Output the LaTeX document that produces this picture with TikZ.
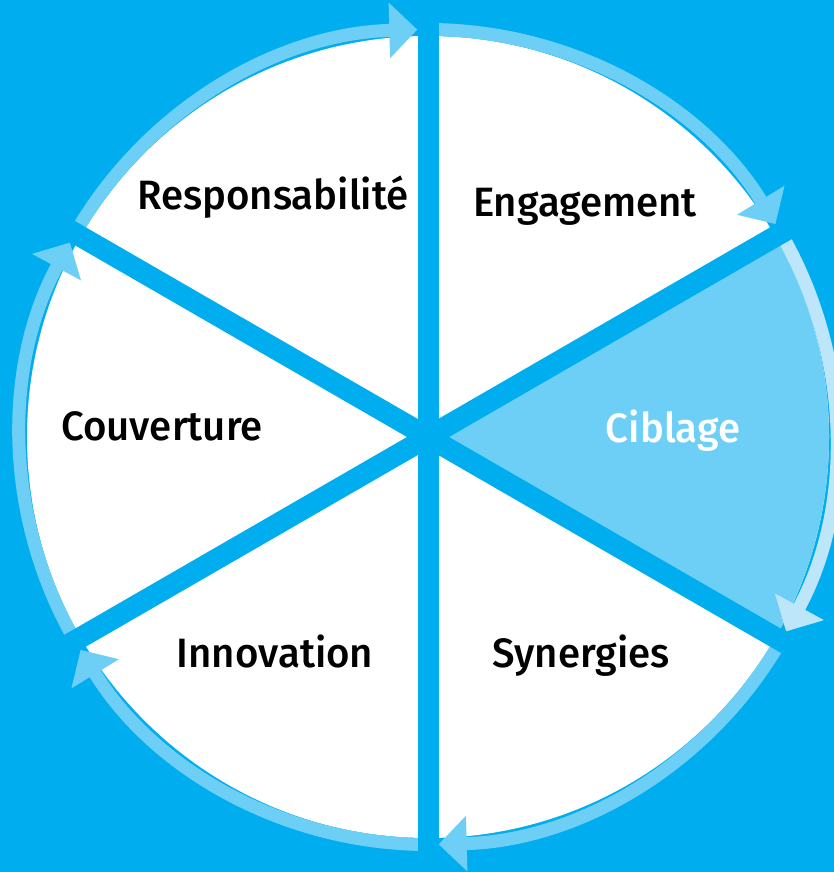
\documentclass[tikz,border=0pt]{standalone}
\usepackage{fontspec}
\setmainfont{Fira Sans}[UprightFont=* Medium,FakeStretch=0.98]
\usetikzlibrary{arrows.meta}
\definecolor{bgblue}{RGB}{0,174,239}
\definecolor{ringblue}{RGB}{109,207,246}
\definecolor{paleblue}{RGB}{189,230,250}

\begin{document}
\begin{tikzpicture}[x=1pt,y=1pt,
  label node/.style={font=\fontsize{41}{42}\selectfont,anchor=base},
  ring arrow/.style={line width=13pt,-{Triangle[length=28pt,width=54pt]}}]

  \useasboundingbox (0,0) rectangle (834,872);
  \clip (0,0) rectangle (834,872);
  \fill[bgblue] (0,0) rectangle (834,872);

  \coordinate (c) at (428,435);
  \fill[white] (c) circle (401pt);
  \fill[ringblue] (c) -- ([shift={(30:401pt)}]c) arc[start angle=30,end angle=-30,radius=401pt] -- cycle;

  \foreach \a/\col in {90/ringblue,30/paleblue,-30/ringblue,-90/ringblue,-150/ringblue,150/ringblue}
    \draw[ring arrow,\col] ([shift={(\a:407.5pt)}]c) arc[start angle=\a,end angle=\a-58.5,radius=407.5pt];

  \foreach \a in {90,30,-30}
    \draw[bgblue,line width=21pt] ([shift={(\a:460pt)}]c) -- ([shift={(\a+180:460pt)}]c);

  \foreach \place/\name/\txt in {
    {(273,662)/resp/Responsabilité},
    {(585,655)/eng/Engagement},
    {(162,431)/couv/Couverture},
    {(275,204)/innov/Innovation},
    {(581,204)/syn/Synergies}}
  \node[label node] (\name) at \place {\txt};
  \node[label node,text=white] (cib) at (673,429) {Ciblage};
\end{tikzpicture}
\end{document}
